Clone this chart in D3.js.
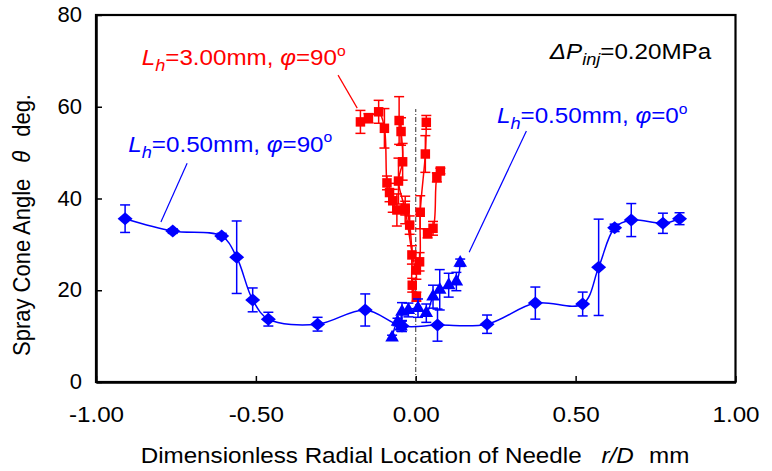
<!DOCTYPE html>
<html>
<head>
<meta charset="utf-8">
<script src="https://cdn.jsdelivr.net/npm/d3@7"></script>
<style>
    body { margin: 0; background: #fff; }
    svg { display: block; font-family: Arial, "Liberation Sans", sans-serif; }
</style>
</head>
<body>
<div id="chart"></div>
<script>
// axis ticks
const xTicks = [-1, -0.5, 0, 0.5, 1];
const yTicks = [0, 20, 40, 60, 80];

// [r/D, spray cone angle (deg), error (+/- deg)]
// Lh = 0.50 mm, phi = 90 deg (diamonds)
const short90 = [
    [-0.909, 35.6, 3.0], [-0.760, 32.9, 0.5], [-0.607, 31.8, 0.6], [-0.560, 27.2, 7.9],
    [-0.510, 17.9, 2.6], [-0.461, 13.7, 1.5], [-0.307, 12.6, 1.5], [-0.158, 15.7, 3.5],
    [-0.043, 12.2, 1.2], [0.068, 12.4, 3.5], [0.223, 12.6, 2.0], [0.374, 17.2, 3.5],
    [0.522, 17.0, 2.6], [0.572, 25.0, 10.5], [0.622, 33.6, 0.8], [0.674, 35.3, 3.6],
    [0.773, 34.6, 2.2], [0.825, 35.6, 1.3]
];

// Lh = 0.50 mm, phi = 0 deg (triangles)
const short0 = [
    [-0.074, 9.7, 0.5], [-0.057, 13.1, 0.8], [-0.046, 12.1, 1.0], [-0.043, 15.3, 2.0],
    [-0.023, 15.7, 1.5], [0.007, 16.1, 2.0], [0.033, 15.0, 2.0], [0.054, 18.6, 2.5],
    [0.075, 20.1, 4.4], [0.103, 21.1, 2.6], [0.127, 21.9, 2.0], [0.139, 26.0, 0.8]
];

// Lh = 3.00 mm, phi = 90 deg (squares), three traverses
const long90a = [
    [-0.173, 56.7, 2.5], [-0.148, 57.5, 1.0], [-0.116, 58.9, 2.5], [-0.098, 55.3, 4.3],
    [-0.090, 43.4, 1.5], [-0.082, 41.3, 2.0], [-0.072, 39.5, 2.5], [-0.059, 37.5, 3.5],
    [-0.033, 37.9, 1.5], [-0.019, 34.2, 2.0], [-0.012, 27.7, 2.0], [-0.011, 21.1, 1.5],
    [0.002, 18.6, 1.0]
];
const long90b = [
    [-0.052, 57.0, 5.2], [-0.046, 54.6, 3.0], [-0.041, 48.0, 4.0], [-0.054, 43.8, 5.0],
    [-0.033, 37.5, 3.0], [0.002, 24.4, 2.0], [0.012, 26.2, 2.0], [0.014, 37.0, 3.6],
    [0.030, 49.7, 4.0], [0.033, 56.6, 1.5]
];
const long90c = [
    [0.037, 32.4, 1.0], [0.054, 33.5, 1.5], [0.066, 44.6, 1.0], [0.077, 46.0, 0.6]
];

// nozzle centre line, r/D = 0
const centreLine = [[0, 0], [0, 59.5]];

// annotation leader lines, data coords
const leaderLong90 = [[-0.243, 66.9], [-0.183, 59.7]];
const leaderShort90 = [[-0.715, 47.7], [-0.797, 34.9]];
const leaderShort0 = [[0.346, 54.7], [0.167, 28.3]];

const width = 772, height = 471;
const blue = '#0000ff', red = '#ff0000';
const fontSize = 22;
const stretch = 1.1; // source picture is a little wider than tall

const x = d3.scaleLinear().domain([-1, 1]).range([96, 735.5]);
const y = d3.scaleLinear().domain([0, 80]).range([382, 15]);

const svg = d3.select('#chart').append('svg')
    .attr('width', width)
    .attr('height', height);

// frame
svg.append('rect')
    .attr('x', x(-1)).attr('y', y(80))
    .attr('width', x(1) - x(-1)).attr('height', y(0) - y(80))
    .attr('fill', 'none').attr('stroke', '#000').attr('stroke-width', 2.2);

// axes, ticks point inward
const xAxis = svg.append('g')
    .attr('transform', `translate(0,${y(0)})`)
    .call(d3.axisBottom(x).tickValues(xTicks).tickSize(-6).tickSizeOuter(0)
        .tickPadding(24).tickFormat(d => d.toFixed(2)));
const yAxis = svg.append('g')
    .attr('transform', `translate(${x(-1)},0)`)
    .call(d3.axisLeft(y).tickValues(yTicks).tickSize(-6).tickSizeOuter(0)
        .tickPadding(14).tickFormat(d => d));

[xAxis, yAxis].forEach(ax => {
    ax.select('.domain').attr('stroke', '#000').attr('stroke-width', 2.5);
    ax.selectAll('.tick line').attr('stroke', '#000').attr('stroke-width', 1.5);
    ax.selectAll('.tick text')
        .attr('fill', '#000')
        .style('font-size', fontSize + 'px')
        .style('font-family', 'Arial, "Liberation Sans", sans-serif');
});
xAxis.selectAll('.tick text').attr('transform', `scale(${stretch},1)`);
yAxis.selectAll('.tick text').attr('dy', '0.3em');

// rich text: parts = [{t, it, sub, sup}]
function richText(parent, px, py, parts, opts = {}) {
    const g = parent.append('g')
        .attr('transform', `translate(${px},${py}) ${opts.rotate ? 'rotate(-90) scale(1,' + stretch + ')' : 'scale(' + stretch + ',1)'}`);
    const text = g.append('text')
        .attr('fill', opts.color || '#000')
        .attr('text-anchor', opts.anchor || 'start')
        .style('font-size', fontSize + 'px');
    let shift = 0;
    parts.forEach(p => {
        const s = p.sub ? 0.28 : p.sup ? -0.42 : 0;
        const ts = text.append('tspan')
            .text(p.t)
            .attr('dy', ((s - shift) * fontSize).toFixed(2))
            .style('font-style', p.it ? 'italic' : 'normal')
            .style('font-size', (p.sub ? 0.75 : p.sup ? 0.65 : 1) * fontSize + 'px');
        if (p.dx) ts.attr('dx', p.dx);
        shift = s;
    });
    return text;
}

// axis titles
richText(svg, 415, 463, [
    { t: 'Dimensionless Radial Location of Needle' },
    { t: 'r/D', it: true, dx: 18 },
    { t: 'mm', dx: 14 }
], { anchor: 'middle' });

richText(svg, 30, 225, [
    { t: 'Spray Cone Angle' },
    { t: 'θ', it: true, dx: 16 },
    { t: 'deg.', dx: 14 }
], { anchor: 'middle', rotate: true });

// centre line
const line = d3.line().x(d => x(d[0])).y(d => y(d[1]));
svg.append('path')
    .attr('d', line(centreLine))
    .attr('fill', 'none').attr('stroke', '#333').attr('stroke-width', 1)
    .attr('stroke-dasharray', '5,2,1,2');

const smooth = d3.line().x(d => x(d[0])).y(d => y(d[1])).curve(d3.curveCatmullRom.alpha(0.5));

function drawSeries(data, color, marker) {
    const g = svg.append('g');
    g.append('path')
        .attr('d', smooth(data))
        .attr('fill', 'none').attr('stroke', color).attr('stroke-width', 1.5);
    const bars = g.selectAll('.err').data(data).enter().append('g').attr('class', 'err')
        .attr('stroke', color).attr('stroke-width', 1.5);
    bars.append('line')
        .attr('x1', d => x(d[0])).attr('x2', d => x(d[0]))
        .attr('y1', d => y(d[1] - d[2])).attr('y2', d => y(d[1] + d[2]));
    [-1, 1].forEach(sign => {
        bars.append('line')
            .attr('x1', d => x(d[0]) - 5).attr('x2', d => x(d[0]) + 5)
            .attr('y1', d => y(d[1] + sign * d[2])).attr('y2', d => y(d[1] + sign * d[2]));
    });
    g.selectAll('.mark').data(data).enter().append('path').attr('class', 'mark')
        .attr('d', marker)
        .attr('transform', d => `translate(${x(d[0])},${y(d[1])})`)
        .attr('fill', color);
}

const squareMark = d3.symbol(d3.symbolSquare, 90)();
const diamondMark = 'M-7.5,0L0,-6.5L7.5,0L0,6.5Z';
const triangleMark = d3.symbol(d3.symbolTriangle, 80)();

[long90a, long90b, long90c].forEach(s => drawSeries(s, red, squareMark));
drawSeries(short90, blue, diamondMark);
drawSeries(short0, blue, triangleMark);

// leader lines
[[leaderLong90, red], [leaderShort90, blue], [leaderShort0, blue]].forEach(([pts, color]) => {
    svg.append('path').attr('d', line(pts))
        .attr('fill', 'none').attr('stroke', color).attr('stroke-width', 1.2);
});

// annotations
richText(svg, x(-0.857), y(69.1), [
    { t: 'L', it: true }, { t: 'h', it: true, sub: true }, { t: '=3.00mm, ' },
    { t: 'φ', it: true }, { t: '=90' }, { t: 'o', sup: true }
], { color: red });

richText(svg, x(-0.899), y(50.2), [
    { t: 'L', it: true }, { t: 'h', it: true, sub: true }, { t: '=0.50mm, ' },
    { t: 'φ', it: true }, { t: '=90' }, { t: 'o', sup: true }
], { color: blue });

richText(svg, x(0.254), y(56.4), [
    { t: 'L', it: true }, { t: 'h', it: true, sub: true }, { t: '=0.50mm, ' },
    { t: 'φ', it: true }, { t: '=0' }, { t: 'o', sup: true }
], { color: blue });

richText(svg, x(0.924), y(70.4), [
    { t: 'ΔP', it: true }, { t: 'inj', it: true, sub: true }, { t: '=0.20MPa' }
], { anchor: 'end' });
</script>
</body>
</html>
